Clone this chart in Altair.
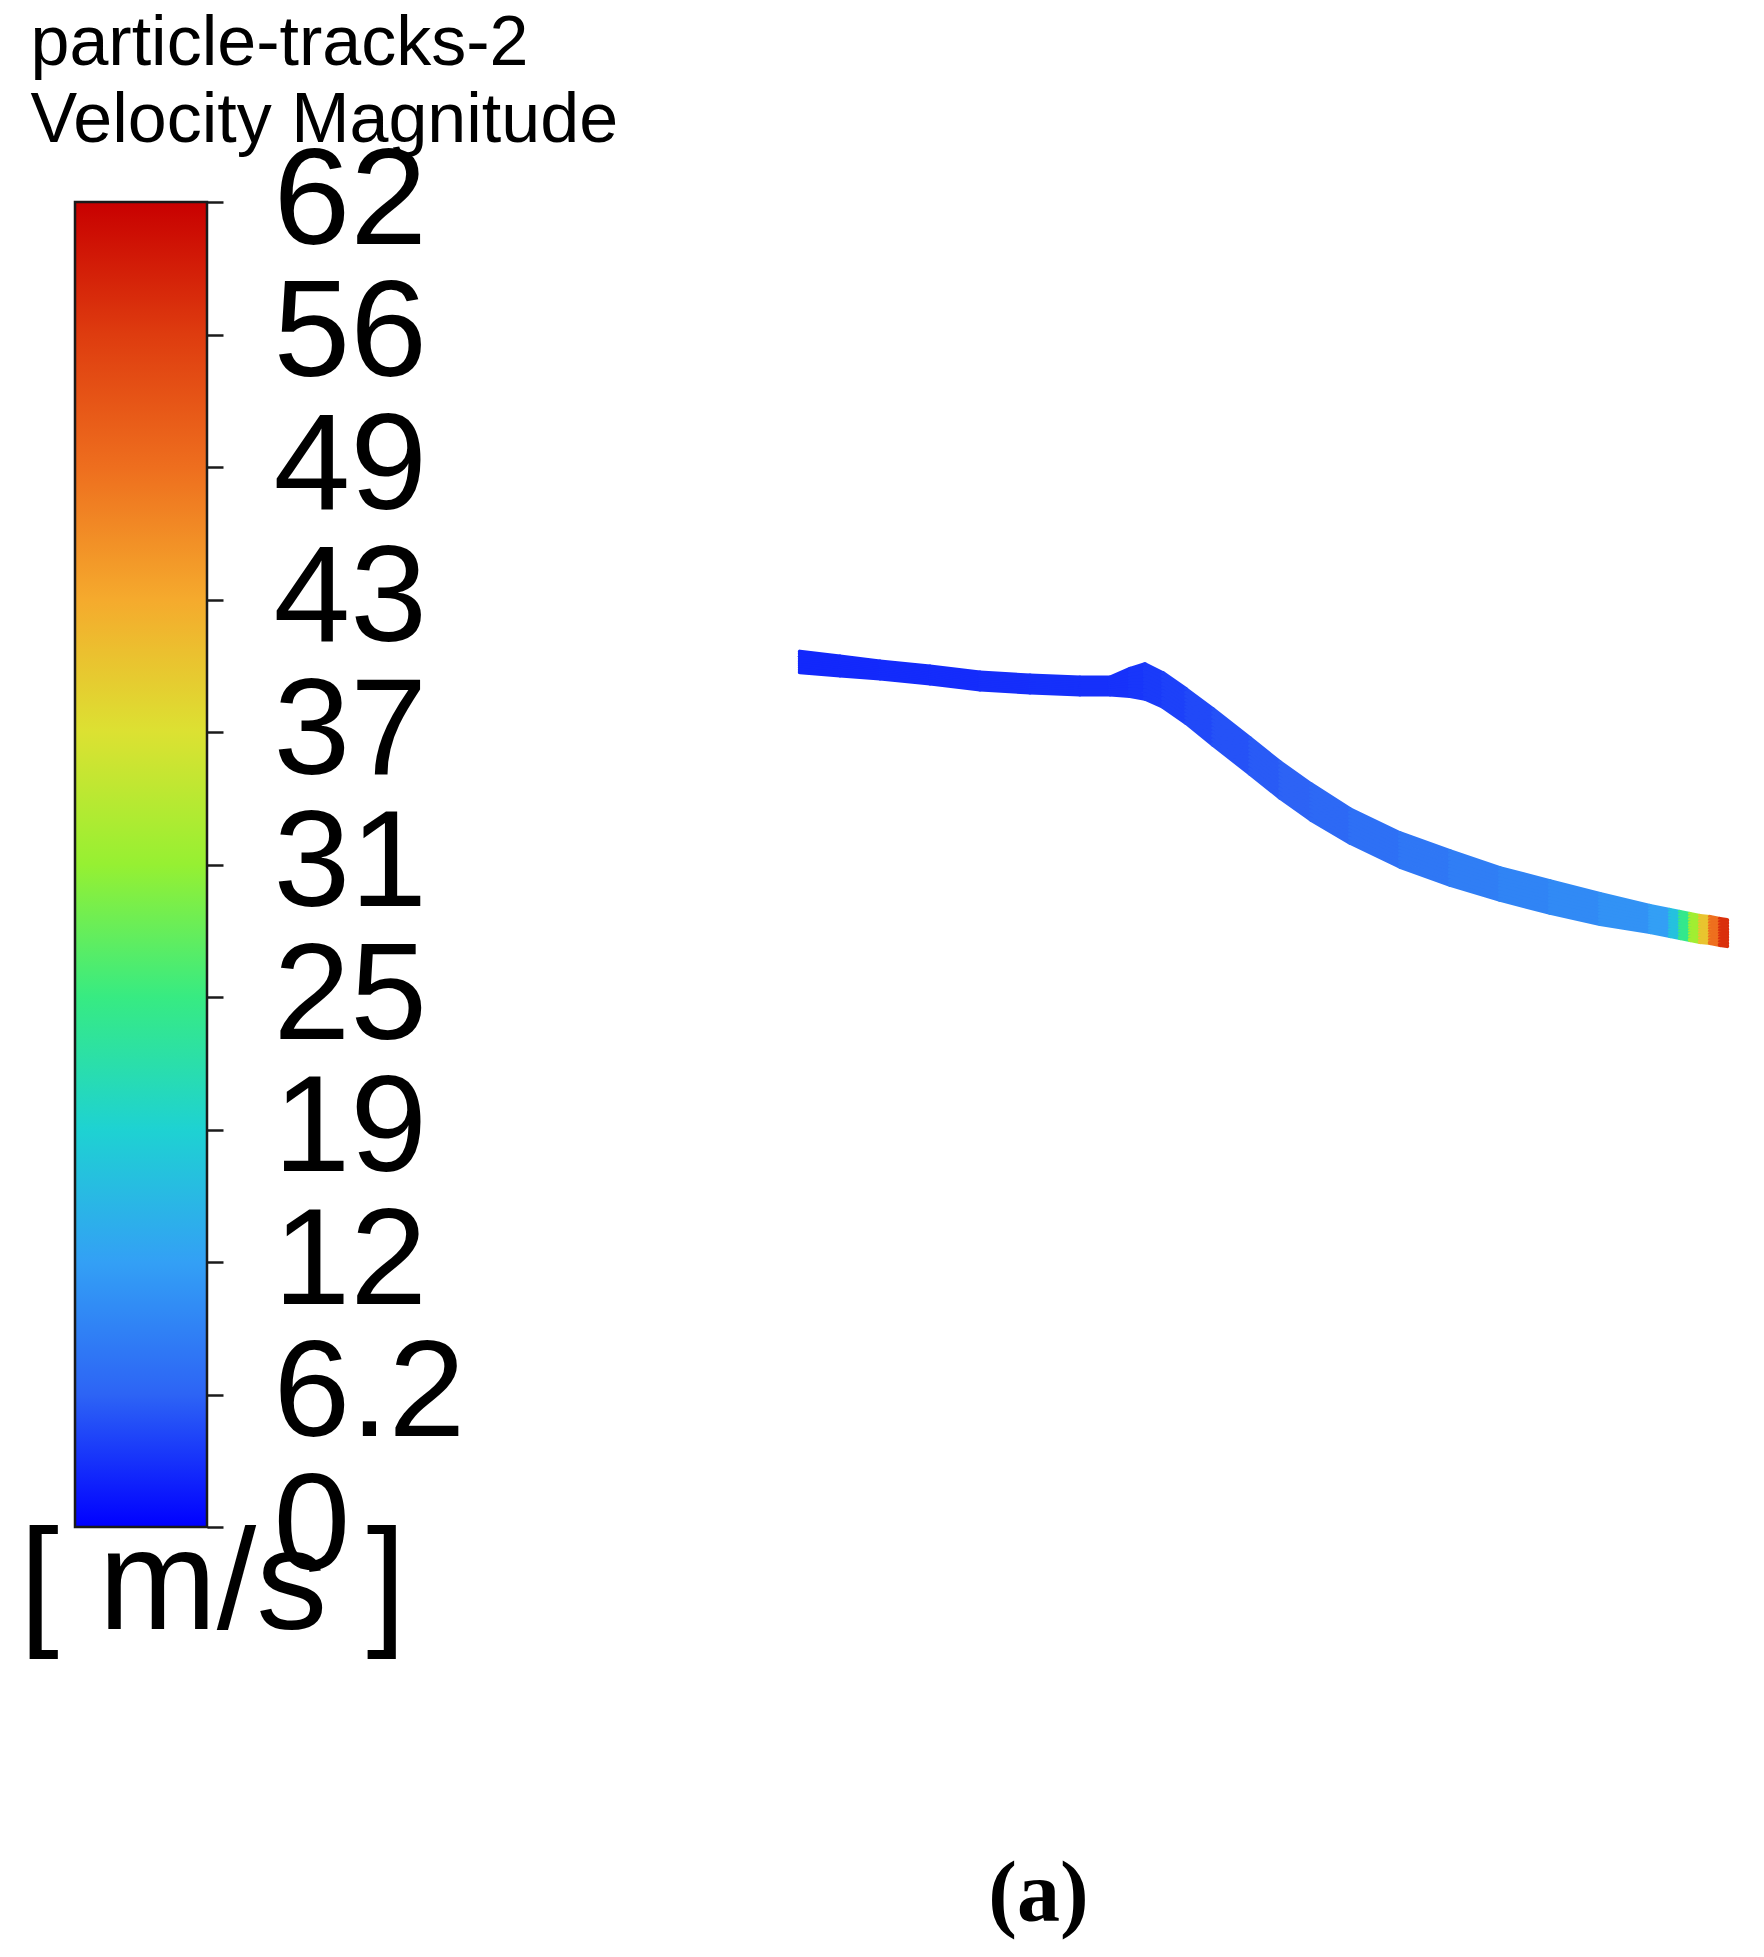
import json
import altair as alt
import pandas as pd

# ---------------- data ----------------
HEADER = ["particle-tracks-2", "Velocity Magnitude"]
UNIT_LABEL = "[ m/s ]"
PANEL_LABEL = "(a)"

# colour-bar: value stops and colours (Fluent rainbow)
STOP_V = [0, 6.2, 12.4, 18.6, 24.8, 31, 37.2, 43.4, 49.6, 55.8, 62]
STOP_C = ["#0000ff", "#2d64f5", "#33a0f5", "#1ed2d2", "#37eb82", "#96f032",
          "#dce132", "#f5aa2d", "#ee6e1e", "#de3c0f", "#c80000"]
TICK_VALUES = [0, 6.2, 12.4, 18.6, 24.8, 31, 37.2, 43.4, 49.6, 55.8, 62]
TICK_LABELS = ["0", "6.2", "12", "19", "25", "31", "37", "43", "49", "56", "62"]

# particle-track bundle (model units, mm): x positions, upper / lower edge, velocity
TRACK_X = [0, 4, 8, 13, 18, 23, 28, 31, 33, 34.5, 36.3, 38.6, 41.3, 45, 48, 51.1,
           55, 60, 65, 70, 75, 80, 85, 87, 88, 89, 90, 91, 92, 92.7]
TRACK_TOP = [30.9, 30.4, 29.9, 29.4, 28.8, 28.5, 28.3, 28.3, 29.2, 29.7, 28.8, 27.2,
             25.2, 22.3, 19.9, 17.7, 15.2, 12.8, 11.0, 9.3, 8.0, 6.7, 5.5, 5.1, 4.9,
             4.7, 4.5, 4.4, 4.2, 4.1]
TRACK_BOT = [28.7, 28.4, 28.1, 27.6, 27.0, 26.7, 26.5, 26.5, 26.3, 26.0, 25.2, 23.6,
             21.4, 18.5, 16.1, 13.9, 11.6, 9.2, 7.4, 5.9, 4.6, 3.5, 2.7, 2.3, 2.1,
             1.9, 1.7, 1.6, 1.4, 1.3]
TRACK_V = [2.5, 2.5, 2.6, 2.7, 2.8, 2.9, 3.0, 3.0, 3.2, 3.5, 3.8, 4.2, 4.8, 5.4, 5.9,
           6.4, 7.0, 7.8, 8.5, 9.2, 9.8, 10.5, 11.5, 13, 20, 28, 36, 45, 54, 60]
# position of each track inside the bundle (0 = upper edge, 1 = lower edge)
TRACK_POS = [0.04, 0.14, 0.25, 0.36, 0.46, 0.55, 0.65, 0.75, 0.86, 0.96]

# ---------------- tables ----------------
seg_rows = []
for k, f in enumerate(TRACK_POS):
    ys = [t + f * (b - t) for t, b in zip(TRACK_TOP, TRACK_BOT)]
    for i in range(len(TRACK_X) - 1):
        seg_rows.append({"track": k, "x": TRACK_X[i], "x2": TRACK_X[i + 1],
                         "y": ys[i], "y2": ys[i + 1],
                         "v": (TRACK_V[i] + TRACK_V[i + 1]) / 2})
segs = pd.DataFrame(seg_rows)
bar = pd.DataFrame({"lo": [STOP_V[0]], "hi": [STOP_V[-1]], "a": [0], "b": [1]})

W, H = 1748, 1941
SANS = "Liberation Sans"

color_scale = alt.Scale(domain=STOP_V, range=STOP_C, interpolate="rgb")
gradient = alt.Gradient(
    gradient="linear",
    stops=[alt.GradientStop(offset=v / STOP_V[-1], color=c) for v, c in zip(STOP_V, STOP_C)],
    x1=0, x2=0, y1=1, y2=0,
)

label_expr = f"{json.dumps(TICK_LABELS)}[round(datum.value / 6.2)]"

colorbar = alt.Chart(bar).mark_rect(fill=gradient, stroke="#1a1a1a", strokeWidth=2.5).encode(
    x=alt.X("a:Q", scale=alt.Scale(domain=[0, 1], range=[67, 199], nice=False, zero=False),
            axis=alt.Axis(orient="bottom", domain=False, ticks=False, labels=False, grid=False,
                          title=UNIT_LABEL, titleFont=SANS, titleFontSize=142,
                          titleFontWeight="normal", titleColor="black",
                          titleAlign="left", titleBaseline="alphabetic", titleLimit=2000,
                          titleX=11, titleY=1620 - H)),
    x2="b:Q",
    y=alt.Y("lo:Q", scale=alt.Scale(domain=[0, 62], range=[1519, 194], nice=False, zero=False),
            axis=alt.Axis(orient="right", offset=199 - W, values=TICK_VALUES,
                          labelExpr=label_expr, tickSize=16, tickWidth=2.5,
                          tickColor="#1a1a1a", domain=False, grid=False,
                          labelFont=SANS, labelFontSize=138, labelColor="black",
                          labelPadding=50, labelOverlap=False, labelBound=False,
                          labelFlush=False, labelAlign="left", labelBaseline="middle",
                          labelLimit=2000,
                          title=HEADER, titleFont=SANS, titleFontSize=70,
                          titleFontWeight="normal", titleColor="black", titleAngle=0,
                          titleAlign="left", titleBaseline="alphabetic", titleLimit=2000,
                          titleLineHeight=77, titleX=22 - 199, titleY=56)),
    y2="hi:Q",
)

tracks = alt.Chart(segs).mark_rule(strokeWidth=4.5, strokeCap="round").encode(
    x=alt.X("x:Q", scale=alt.Scale(domain=[0, 92.7], range=[792, 1719], nice=False, zero=False),
            axis=alt.Axis(orient="top", domain=False, ticks=False, labels=False, grid=False,
                          title=PANEL_LABEL, titleFont="Liberation Serif", titleFontSize=86,
                          titleFontWeight="bold", titleColor="black",
                          titleAlign="center", titleBaseline="alphabetic",
                          titleX=1030, titleY=1912)),
    x2="x2:Q",
    y=alt.Y("y:Q", scale=alt.Scale(domain=[0, 31], range=[952, 642], nice=False, zero=False),
            axis=None),
    y2="y2:Q",
    color=alt.Color("v:Q", scale=color_scale, legend=None),
    detail="track:N",
)

chart = alt.layer(colorbar, tracks).resolve_scale(
    x="independent", y="independent"
).properties(
    width=W, height=H, autosize=alt.AutoSizeParams(type="none"), padding=0,
    background="white",
).configure_view(stroke=None)

chart.save("out.html", embed_options={"renderer": "svg", "actions": False})
